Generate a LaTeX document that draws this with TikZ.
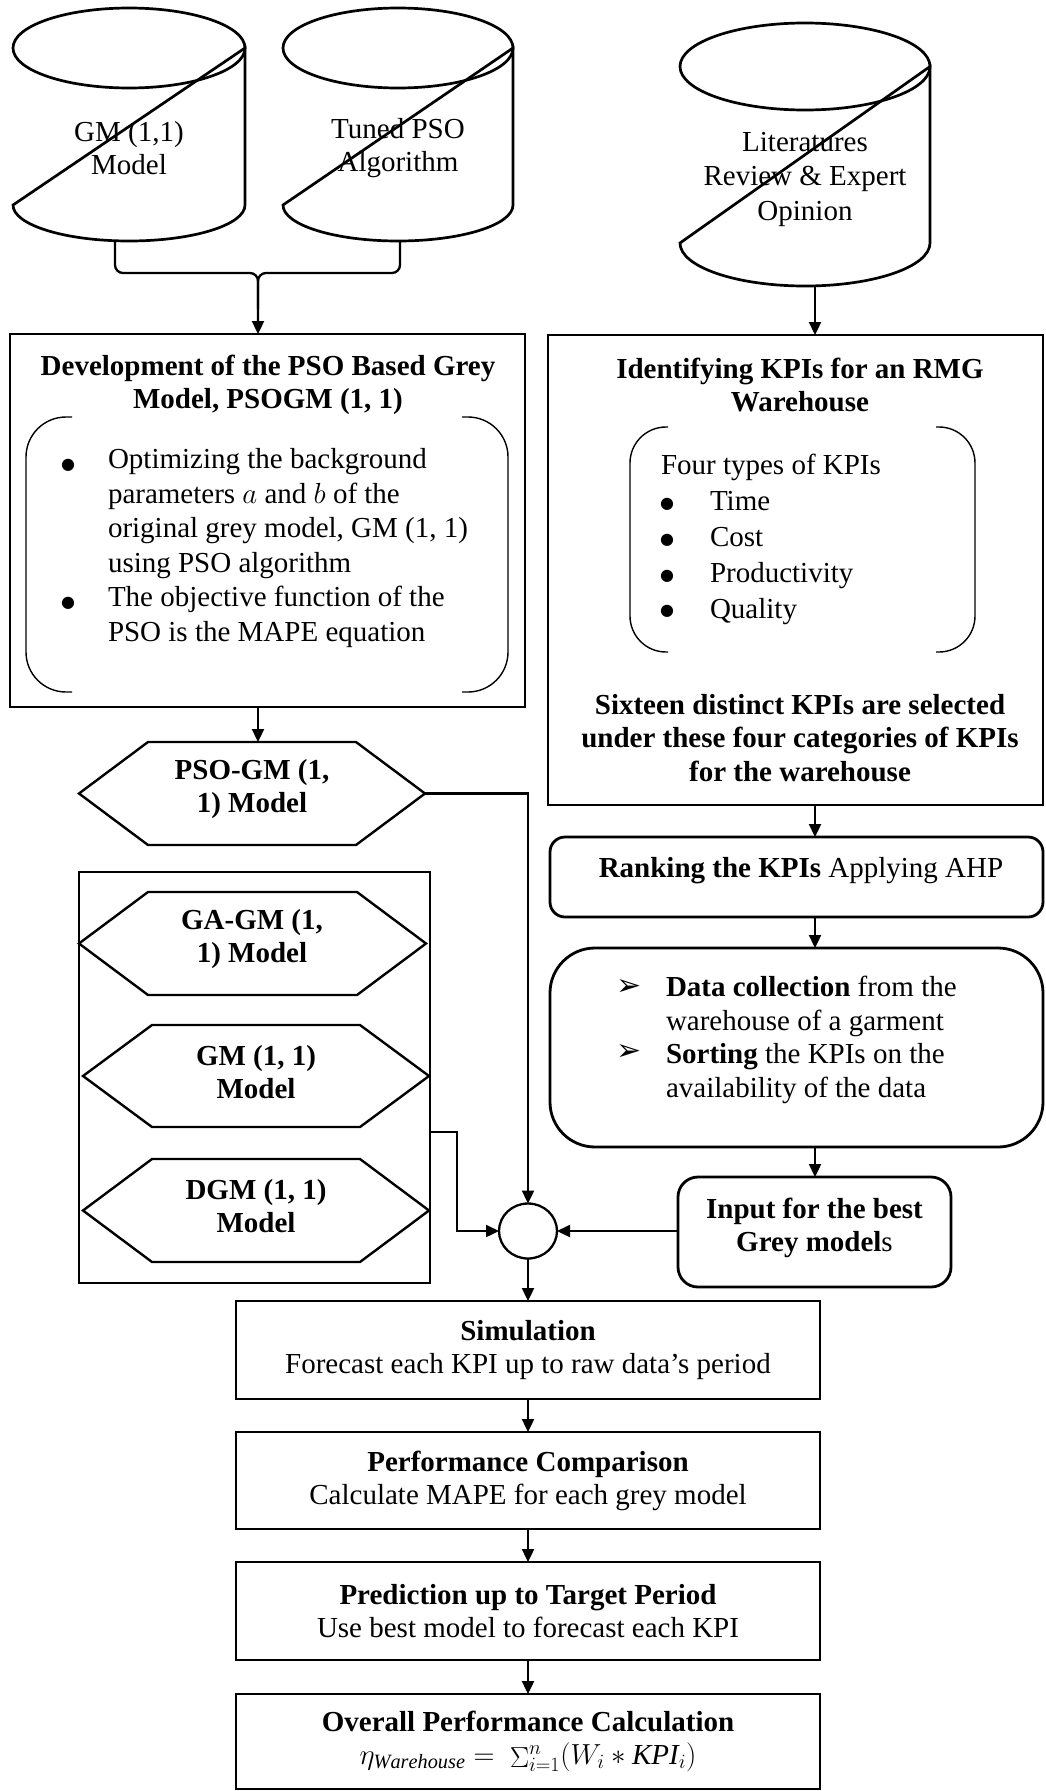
\RequirePackage{fix-cm}
\documentclass[tikz,border=0pt]{standalone}
\usepackage{fontspec}
\setmainfont{Liberation Serif}
\newfontfamily\djv{DejaVu Sans}
\usetikzlibrary{arrows.meta,shapes.geometric,calc}
\newcommand{\drawhexa}[1]{\draw[hexst] (#1.west) -- ($(#1.north west)+(69,0)$) -- ($(#1.north east)+(-69,0)$) -- (#1.east) -- ($(#1.south east)+(-69,0)$) -- ($(#1.south west)+(69,0)$) -- cycle;}
\begin{document}
\begin{tikzpicture}[x=1pt,y=-1pt,
  every node/.style={font=\fontsize{29}{33}\selectfont, inner sep=0pt, outer sep=0pt},
  boxst/.style={draw, line width=2.8pt},
  conn/.style={line width=2.3pt, -{Triangle[length=13pt,width=12pt]}},
  plain/.style={line width=2.3pt},
  cylst/.style={line width=2.7pt},
  hexst/.style={line width=2.4pt},
  parst/.style={line width=1.4pt, rounded corners=#1},
  bt/.style={font=\fontsize{29}{33}\selectfont\bfseries, align=center},
  nt/.style={align=center},
  lst/.style={align=left, anchor=west, font=\fontsize{29}{#1}\selectfont},
  bulst/.style={font=\djv\fontsize{16}{16}\selectfont},
  arrbul/.style={font=\djv\fontsize{30}{30}\selectfont},
]
\useasboundingbox (0,0) rectangle (1046,1791);

% ---------- cylinders ----------
\node[minimum width=232pt, minimum height=233pt] (cyl1) at (129,124.5) {};
\node[minimum width=230pt, minimum height=233pt] (cyl2) at (398,124.5) {};
\node[minimum width=250pt, minimum height=263pt] (cyl3) at (805,154.5) {};
\draw[cylst] (129,48) ellipse[x radius=116pt, y radius=40pt];
\draw[cylst] (245,48) -- (245,205) arc[start angle=0, end angle=-180, x radius=116pt, y radius=36pt] -- cycle;
\draw[cylst] (398,48) ellipse[x radius=115pt, y radius=40pt];
\draw[cylst] (513,48) -- (513,205) arc[start angle=0, end angle=-180, x radius=115pt, y radius=36pt] -- cycle;
\draw[cylst] (805,66.5) ellipse[x radius=125pt, y radius=43.5pt];
\draw[cylst] (930,66.5) -- (930,243) arc[start angle=0, end angle=-180, x radius=125pt, y radius=43pt] -- cycle;
\node[nt] (t1) at (129,148) {GM (1,1)\\Model};
\node[nt] (t2) at (398,148) {Tuned PSO\\Algorithm};
\node[nt, font=\fontsize{29}{34.5}\selectfont] (t3) at (805,179) {Literatures\\Review \& Expert\\Opinion};

% ---------- box 1 ----------
\node[boxst, minimum width=515pt, minimum height=373pt] (box1) at (267.5,520.5) {};
\node[bt] (b1t) at (268,385) {Development of the PSO Based Grey\\Model, PSOGM (1, 1)};
\draw[parst=40pt] (72,417) -- (26,417) -- (26,692) -- (72,692);
\draw[parst=40pt] (462,417) -- (508,417) -- (508,692) -- (462,692);
\node[lst=34.6] (b1l) at (108,548) {Optimizing the background\\parameters $a$ and $b$ of the\\original grey model, GM (1, 1)\\using PSO algorithm\\The objective function of the\\PSO is the MAPE equation};
\node[bulst] (bu1) at (68,465) {●};
\node[bulst] (bu2) at (68,603) {●};

% ---------- box 2 ----------
\node[boxst, minimum width=495pt, minimum height=470pt] (box2) at (795.5,570) {};
\node[bt] (b2t) at (800,385) {Identifying KPIs for an RMG\\Warehouse};
\draw[parst=36pt] (668,427) -- (630,427) -- (630,652) -- (668,652);
\draw[parst=36pt] (936,427) -- (975,427) -- (975,652) -- (936,652);
\node[anchor=west] (k0) at (661,467) {Four types of KPIs};
\node[lst=35.7] (k1) at (710,558) {Time\\Cost\\Productivity\\Quality};
\node[bulst] (kb1) at (667,504) {●};
\node[bulst] (kb2) at (667,540) {●};
\node[bulst] (kb3) at (667,576) {●};
\node[bulst] (kb4) at (667,611) {●};
\node[bt, font=\fontsize{29}{33.5}\selectfont\bfseries] (b2s) at (800,738) {Sixteen distinct KPIs are selected\\under these four categories of KPIs\\for the warehouse};

% ---------- right column ----------
\node[boxst, rounded corners=15pt, minimum width=493pt, minimum height=80pt] (rank) at (796.5,877) {};
\node (rkt) at (801,871) {\textbf{Ranking the KPIs} Applying AHP};
\node[boxst, rounded corners=45pt, minimum width=493pt, minimum height=199pt] (data) at (796.5,1047.5) {};
\node[lst=33.7] (dl) at (666,1040) {\textbf{Data collection} from the\\warehouse of a garment\\\textbf{Sorting} the KPIs on the\\availability of the data};
\node[arrbul] (da1) at (629,987) {➢};
\node[arrbul] (da2) at (629,1052) {➢};
\node[boxst, rounded corners=20pt, minimum width=273pt, minimum height=110pt] (inp) at (814.5,1232) {};
\node[nt] (it) at (814.5,1228) {\textbf{Input for the best}\\\textbf{Grey model}s};

% ---------- hexagons ----------
\node[minimum width=346pt, minimum height=103pt] (pso) at (252,793.5) {};
\drawhexa{pso}
\node[bt] (psot) at (252,789) {PSO-GM (1,\\1) Model};
\node[boxst, line width=2.4pt, minimum width=351pt, minimum height=411pt] (grp) at (254.5,1077.5) {};
\node[minimum width=347pt, minimum height=103pt] (ga) at (252.5,943.5) {};
\drawhexa{ga}
\node[bt] (gat) at (252,939) {GA-GM (1,\\1) Model};
\node[minimum width=346pt, minimum height=102pt] (gm) at (256,1076) {};
\drawhexa{gm}
\node[bt] (gmt) at (256,1072) {GM (1, 1)\\Model};
\node[minimum width=346pt, minimum height=103pt] (dgm) at (256,1210.5) {};
\drawhexa{dgm}
\node[bt] (dgmt) at (256,1206) {DGM (1, 1)\\Model};

% ---------- merge circle ----------
\node[draw, ellipse, line width=2.3pt, minimum width=58pt, minimum height=55pt] (circ) at (528,1231) {};

% ---------- bottom boxes ----------
\node[boxst, minimum width=584pt, minimum height=98pt, align=center] (sim) at (528,1350) {\textbf{Simulation}\\Forecast each KPI up to raw data’s period};
\node[boxst, minimum width=584pt, minimum height=97pt, align=center] (perf) at (528,1480.5) {\textbf{Performance Comparison}\\Calculate MAPE for each grey model};
\node[boxst, minimum width=584pt, minimum height=98pt, align=center] (pred) at (528,1611) {\textbf{Prediction up to Target Period}\\Use best model to forecast each KPI};
\node[boxst, minimum width=584pt, minimum height=95pt, align=center] (over) at (528,1741.5) {\textbf{Overall Performance Calculation}\\$\eta_{\mathit{Warehouse}} =\ \mathop{\Sigma}\nolimits_{i=1}^{n}(W_i * \mathit{KPI}_i)$};

% ---------- connectors ----------
\coordinate (jx) at (258,273);
\coordinate (rc) at (815,0);
\coordinate (gy) at (457,1132);
\draw[conn, rounded corners=8pt] ([xshift=-14pt]cyl1.south) -- ++(0,32) -| (box1.north -| jx);
\draw[plain, rounded corners=8pt] ([xshift=2pt]cyl2.south) -- ++(0,32) -| ($(box1.north -| jx)+(0,-25)$);
\draw[conn] (cyl3.south -| rc) -- (box2.north -| rc);
\draw[conn] (box1.south -| jx) -- (pso.north -| jx);
\draw[conn] (pso.east) -| (circ.north);
\draw[conn] (grp.east |- gy) -- (gy) |- (circ.west);
\draw[conn] (circ.east -| inp.west) -- (circ.east);
\draw[conn] (box2.south -| rc) -- (rank.north -| rc);
\draw[conn] (rank.south -| rc) -- (data.north -| rc);
\draw[conn] (data.south -| rc) -- (inp.north -| rc);
\draw[conn] (circ.south) -- (sim.north);
\draw[conn] (sim.south) -- (perf.north);
\draw[conn] (perf.south) -- (pred.north);
\draw[conn] (pred.south) -- (over.north);
\end{tikzpicture}
\end{document}
